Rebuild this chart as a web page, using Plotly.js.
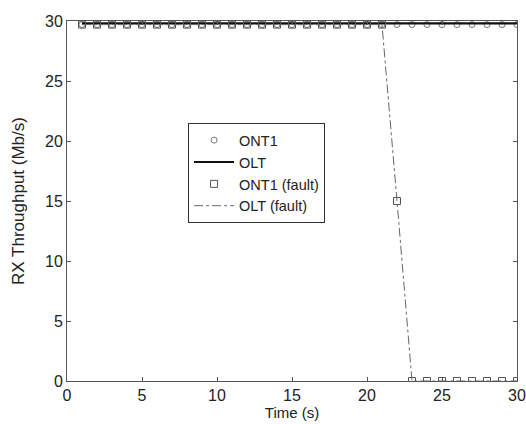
<!DOCTYPE html>
<html><head><meta charset="utf-8">
<script src="https://cdn.plot.ly/plotly-3.0.1.min.js"></script>
<style>body{margin:0;padding:0;background:#fff}#chart{width:526px;height:424px}</style>
</head><body><div id="chart"></div>
<script>
const time = [1,2,3,4,5,6,7,8,9,10,11,12,13,14,15,16,17,18,19,20,21,22,23,24,25,26,27,28,29,30];
const ont1 = [29.7,29.7,29.7,29.7,29.7,29.7,29.7,29.7,29.7,29.7,29.7,29.7,29.7,29.7,29.7,29.7,29.7,29.7,29.7,29.7,29.7,29.7,29.7,29.7,29.7,29.7,29.7,29.7,29.7,29.7];
const olt = [29.8,29.8,29.8,29.8,29.8,29.8,29.8,29.8,29.8,29.8,29.8,29.8,29.8,29.8,29.8,29.8,29.8,29.8,29.8,29.8,29.8,29.8,29.8,29.8,29.8,29.8,29.8,29.8,29.8,29.8];
const ont1Fault = [29.7,29.7,29.7,29.7,29.7,29.7,29.7,29.7,29.7,29.7,29.7,29.7,29.7,29.7,29.7,29.7,29.7,29.7,29.7,29.7,29.7,15,0,0,0,0,0,0,0,0];
const oltFault = [29.7,29.7,29.7,29.7,29.7,29.7,29.7,29.7,29.7,29.7,29.7,29.7,29.7,29.7,29.7,29.7,29.7,29.7,29.7,29.7,29.7,15,0,0,0,0,0,0,0,0];
const names = ['ONT1','OLT','ONT1 (fault)','OLT (fault)'];
const xTicks = [0,5,10,15,20,25,30];
const yTicks = [0,5,10,15,20,25,30];

const FONT = 'Liberation Sans, Arial, sans-serif';
const traces = [
  {x: time, y: ont1, name: names[0], mode: 'markers', type: 'scatter',
   marker: {symbol: 'circle-open', size: 6, color: '#777', line: {width: 1}}},
  {x: time, y: olt, name: names[1], mode: 'lines', type: 'scatter',
   line: {color: '#111', width: 2.2}},
  {x: time, y: ont1Fault, name: names[2], mode: 'markers', type: 'scatter',
   marker: {symbol: 'square-open', size: 7, color: '#555', line: {width: 1}}},
  {x: time, y: oltFault, name: names[3], mode: 'lines', type: 'scatter',
   line: {color: '#666', width: 1, dash: 'dashdot'}}
];
const axisCommon = {
  showgrid: false, zeroline: false, showline: true, linecolor: '#555', linewidth: 1,
  mirror: 'ticks', ticks: 'inside', ticklen: 4, tickcolor: '#555',
  tickfont: {family: FONT, size: 16, color: '#222'}
};
const layout = {
  width: 526, height: 424,
  margin: {l: 67, r: 9, t: 21, b: 43},
  paper_bgcolor: '#fff', plot_bgcolor: '#fff',
  showlegend: true,
  xaxis: Object.assign({}, axisCommon, {range: [0, 30], tickvals: xTicks,
    title: {text: 'Time (s)', standoff: 2, font: {family: FONT, size: 15, color: '#222'}}}),
  yaxis: Object.assign({}, axisCommon, {range: [0, 30], tickvals: yTicks,
    title: {text: 'RX Throughput (Mb/s)', standoff: 16, font: {family: FONT, size: 17, color: '#222'}}}),
  legend: {x: 0.269, y: 0.716, xanchor: 'left', yanchor: 'top',
    bgcolor: '#fff', bordercolor: '#333', borderwidth: 1,
    font: {family: FONT, size: 14.5, color: '#222'},
    tracegroupgap: 0, itemwidth: 40}
};
Plotly.newPlot('chart', traces, layout, {displayModeBar: false, staticPlot: true});
</script></body></html>
